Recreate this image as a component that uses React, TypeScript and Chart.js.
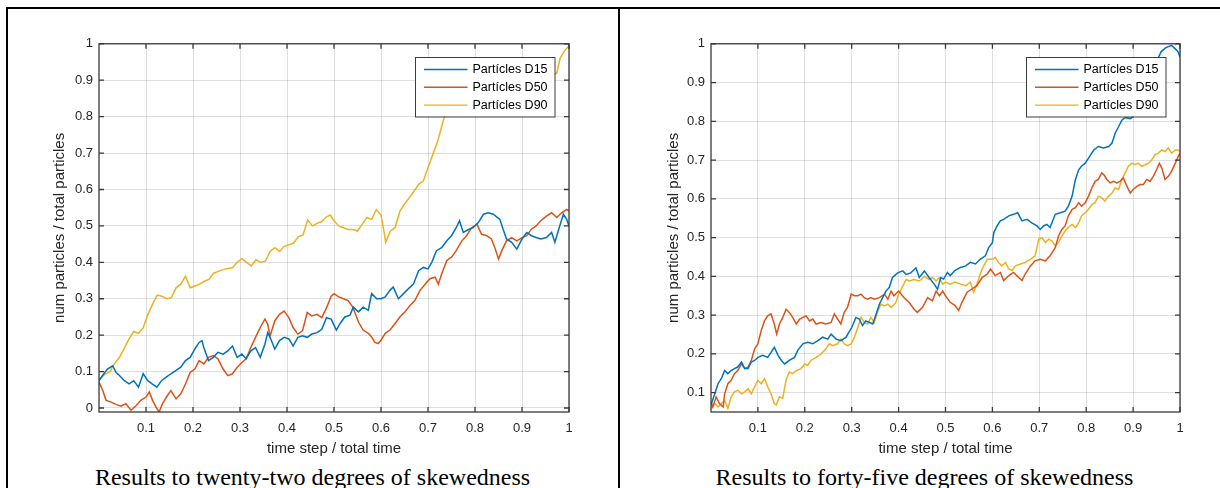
import React, { useEffect, useRef } from 'react';
import { Chart, registerables } from 'chart.js';

Chart.register(...registerables);

// ---------- data (time step / total time, num particles / total particles) ----------
const SERIES_LABELS = ['Partícles D15', 'Partícles D50', 'Partícles D90'];
const SERIES_COLORS = ['#0072BD', '#D95319', '#EDB120'];

const X_TICKS = [0.1, 0.2, 0.3, 0.4, 0.5, 0.6, 0.7, 0.8, 0.9, 1];
const Y_TICKS_LEFT = [0, 0.1, 0.2, 0.3, 0.4, 0.5, 0.6, 0.7, 0.8, 0.9, 1];
const Y_TICKS_RIGHT = [0.1, 0.2, 0.3, 0.4, 0.5, 0.6, 0.7, 0.8, 0.9, 1];

const CAPTION_LEFT = 'Results to twenty-two degrees of skewedness';
const CAPTION_RIGHT = 'Results to forty-five degrees of skewedness';
const X_TITLE = 'time step / total time';
const Y_TITLE = 'num particles / total particles';

// Left panel (22 degrees)
const L_D15: [number, number][] = [
  [0, 0.075], [0.008, 0.09], [0.018, 0.107], [0.029, 0.116], [0.036, 0.098], [0.043, 0.09], [0.054, 0.075],
  [0.064, 0.066], [0.074, 0.075], [0.084, 0.057], [0.094, 0.094], [0.104, 0.075], [0.113, 0.066], [0.123, 0.057],
  [0.133, 0.075], [0.143, 0.085], [0.153, 0.094], [0.164, 0.103], [0.174, 0.112], [0.184, 0.13], [0.194, 0.139],
  [0.204, 0.162], [0.213, 0.18], [0.219, 0.185], [0.223, 0.166], [0.233, 0.13], [0.243, 0.139], [0.253, 0.153],
  [0.264, 0.148], [0.274, 0.157], [0.284, 0.17], [0.294, 0.139], [0.304, 0.148], [0.313, 0.135], [0.323, 0.157],
  [0.333, 0.166], [0.343, 0.139], [0.353, 0.175], [0.359, 0.207], [0.364, 0.194], [0.374, 0.162], [0.384, 0.185],
  [0.394, 0.194], [0.404, 0.19], [0.413, 0.17], [0.423, 0.194], [0.433, 0.198], [0.443, 0.194], [0.453, 0.203],
  [0.464, 0.207], [0.474, 0.216], [0.484, 0.248], [0.494, 0.244], [0.505, 0.214], [0.513, 0.232], [0.523, 0.25],
  [0.534, 0.255], [0.541, 0.277], [0.552, 0.264], [0.562, 0.277], [0.573, 0.268], [0.58, 0.314], [0.591, 0.3],
  [0.6, 0.3], [0.609, 0.305], [0.619, 0.323], [0.626, 0.332], [0.637, 0.3], [0.648, 0.314], [0.658, 0.327],
  [0.669, 0.34], [0.68, 0.377], [0.69, 0.386], [0.7, 0.382], [0.708, 0.4], [0.718, 0.432], [0.729, 0.44],
  [0.74, 0.459], [0.75, 0.473], [0.76, 0.495], [0.767, 0.514], [0.775, 0.482], [0.786, 0.49], [0.796, 0.495],
  [0.807, 0.509], [0.818, 0.532], [0.828, 0.536], [0.839, 0.532], [0.853, 0.518], [0.86, 0.49], [0.867, 0.464],
  [0.878, 0.455], [0.889, 0.436], [0.9, 0.464], [0.91, 0.482], [0.92, 0.473], [0.93, 0.468], [0.94, 0.464],
  [0.952, 0.468], [0.963, 0.482], [0.97, 0.455], [0.977, 0.486], [0.988, 0.532], [0.995, 0.518], [1, 0.5],
];

const L_D50: [number, number][] = [
  [0, 0.071], [0.008, 0.048], [0.015, 0.021], [0.026, 0.016], [0.036, 0.01], [0.047, 0.005], [0.057, 0.012],
  [0.068, -0.006], [0.079, 0.007], [0.089, 0.021], [0.1, 0.03], [0.107, 0.044], [0.114, 0.021], [0.121, 0.003],
  [0.128, -0.011], [0.135, 0.012], [0.146, 0.035], [0.153, 0.048], [0.164, 0.025], [0.174, 0.039], [0.184, 0.066],
  [0.194, 0.098], [0.204, 0.107], [0.213, 0.13], [0.223, 0.121], [0.233, 0.139], [0.243, 0.144], [0.253, 0.135],
  [0.264, 0.107], [0.274, 0.089], [0.284, 0.094], [0.294, 0.112], [0.304, 0.125], [0.313, 0.135], [0.323, 0.166],
  [0.333, 0.194], [0.343, 0.221], [0.353, 0.244], [0.359, 0.23], [0.364, 0.198], [0.374, 0.239], [0.384, 0.257],
  [0.394, 0.266], [0.404, 0.248], [0.413, 0.221], [0.423, 0.203], [0.433, 0.212], [0.443, 0.262], [0.453, 0.253],
  [0.464, 0.257], [0.474, 0.248], [0.484, 0.275], [0.494, 0.307], [0.5, 0.314], [0.51, 0.305], [0.52, 0.3],
  [0.53, 0.295], [0.54, 0.277], [0.552, 0.236], [0.562, 0.214], [0.573, 0.205], [0.58, 0.195], [0.587, 0.18],
  [0.594, 0.177], [0.6, 0.186], [0.609, 0.205], [0.619, 0.214], [0.63, 0.232], [0.64, 0.25], [0.651, 0.264],
  [0.662, 0.282], [0.672, 0.295], [0.683, 0.323], [0.694, 0.34], [0.704, 0.355], [0.715, 0.359], [0.722, 0.34],
  [0.729, 0.368], [0.74, 0.405], [0.75, 0.414], [0.76, 0.432], [0.772, 0.459], [0.782, 0.473], [0.793, 0.495],
  [0.804, 0.505], [0.814, 0.477], [0.825, 0.473], [0.835, 0.464], [0.842, 0.441], [0.85, 0.409], [0.857, 0.432],
  [0.867, 0.459], [0.878, 0.468], [0.889, 0.459], [0.9, 0.468], [0.91, 0.473], [0.92, 0.491], [0.93, 0.5],
  [0.94, 0.514], [0.952, 0.527], [0.963, 0.536], [0.974, 0.523], [0.984, 0.536], [0.995, 0.545], [1, 0.541],
];

const L_D90: [number, number][] = [
  [0, 0.078], [0.014, 0.094], [0.024, 0.1], [0.029, 0.115], [0.044, 0.14], [0.064, 0.19], [0.074, 0.21],
  [0.084, 0.205], [0.094, 0.22], [0.104, 0.257], [0.114, 0.285], [0.124, 0.31], [0.134, 0.307], [0.144, 0.3],
  [0.154, 0.303], [0.164, 0.33], [0.174, 0.34], [0.184, 0.362], [0.194, 0.33], [0.204, 0.335], [0.214, 0.34],
  [0.224, 0.348], [0.234, 0.353], [0.244, 0.37], [0.254, 0.375], [0.264, 0.38], [0.274, 0.383], [0.284, 0.385],
  [0.294, 0.4], [0.304, 0.41], [0.314, 0.4], [0.324, 0.39], [0.334, 0.407], [0.344, 0.4], [0.354, 0.403],
  [0.364, 0.43], [0.374, 0.44], [0.384, 0.43], [0.394, 0.444], [0.404, 0.448], [0.414, 0.453], [0.424, 0.47],
  [0.434, 0.475], [0.444, 0.516], [0.454, 0.5], [0.464, 0.507], [0.474, 0.512], [0.484, 0.525], [0.492, 0.53],
  [0.5, 0.514], [0.51, 0.5], [0.52, 0.495], [0.53, 0.49], [0.54, 0.49], [0.55, 0.486], [0.56, 0.505],
  [0.57, 0.523], [0.58, 0.518], [0.59, 0.545], [0.6, 0.53], [0.605, 0.495], [0.61, 0.455], [0.62, 0.486],
  [0.63, 0.495], [0.64, 0.54], [0.65, 0.56], [0.66, 0.577], [0.67, 0.595], [0.68, 0.614], [0.69, 0.623],
  [0.7, 0.66], [0.71, 0.695], [0.72, 0.73], [0.73, 0.777], [0.735, 0.8], [0.76, 0.82], [0.8, 0.85],
  [0.85, 0.87], [0.9, 0.89], [0.94, 0.9], [0.96, 0.91], [0.974, 0.92], [0.981, 0.96], [0.99, 0.98], [1, 0.995],
];

// Right panel (45 degrees)
const R_D15: [number, number][] = [
  [0, 0.068], [0.008, 0.097], [0.015, 0.123], [0.022, 0.136], [0.029, 0.157], [0.036, 0.149], [0.043, 0.157],
  [0.05, 0.162], [0.057, 0.166], [0.065, 0.179], [0.072, 0.162], [0.079, 0.162], [0.086, 0.179], [0.093, 0.183],
  [0.1, 0.191], [0.11, 0.196], [0.121, 0.191], [0.128, 0.204], [0.135, 0.217], [0.143, 0.196], [0.15, 0.183],
  [0.157, 0.174], [0.167, 0.183], [0.178, 0.191], [0.185, 0.209], [0.196, 0.226], [0.206, 0.23], [0.217, 0.226],
  [0.228, 0.234], [0.238, 0.243], [0.249, 0.238], [0.256, 0.251], [0.267, 0.238], [0.277, 0.234], [0.288, 0.243],
  [0.3, 0.268], [0.309, 0.294], [0.316, 0.29], [0.323, 0.273], [0.33, 0.285], [0.338, 0.281], [0.345, 0.277],
  [0.352, 0.302], [0.359, 0.328], [0.366, 0.345], [0.373, 0.362], [0.38, 0.371], [0.387, 0.397], [0.398, 0.409],
  [0.409, 0.414], [0.416, 0.405], [0.426, 0.409], [0.437, 0.422], [0.444, 0.397], [0.455, 0.414], [0.465, 0.397],
  [0.476, 0.38], [0.483, 0.367], [0.49, 0.397], [0.496, 0.393], [0.504, 0.41], [0.51, 0.402], [0.52, 0.415],
  [0.532, 0.423], [0.543, 0.427], [0.553, 0.436], [0.564, 0.432], [0.574, 0.444], [0.585, 0.453], [0.592, 0.474],
  [0.6, 0.487], [0.603, 0.513], [0.61, 0.53], [0.617, 0.543], [0.624, 0.547], [0.635, 0.556], [0.645, 0.56],
  [0.654, 0.564], [0.663, 0.543], [0.674, 0.547], [0.684, 0.538], [0.695, 0.53], [0.702, 0.521], [0.709, 0.53],
  [0.716, 0.534], [0.723, 0.526], [0.734, 0.56], [0.745, 0.564], [0.755, 0.568], [0.762, 0.581], [0.77, 0.607],
  [0.777, 0.65], [0.784, 0.675], [0.79, 0.684], [0.798, 0.692], [0.805, 0.705], [0.816, 0.726], [0.826, 0.735],
  [0.837, 0.731], [0.848, 0.735], [0.855, 0.744], [0.862, 0.77], [0.869, 0.786], [0.876, 0.803], [0.883, 0.81],
  [0.894, 0.807], [0.9, 0.812], [0.91, 0.84], [0.92, 0.87], [0.93, 0.9], [0.94, 0.93], [0.95, 0.955],
  [0.96, 0.98], [0.97, 0.99], [0.982, 0.996], [0.99, 0.987], [0.996, 0.979], [1, 0.966],
];

const R_D50: [number, number][] = [
  [0, 0.076], [0.004, 0.063], [0.011, 0.089], [0.018, 0.072], [0.026, 0.063], [0.029, 0.097], [0.036, 0.123],
  [0.043, 0.132], [0.05, 0.149], [0.057, 0.157], [0.065, 0.174], [0.072, 0.162], [0.079, 0.166], [0.086, 0.183],
  [0.093, 0.213], [0.1, 0.226], [0.107, 0.26], [0.114, 0.285], [0.121, 0.298], [0.128, 0.303], [0.135, 0.277],
  [0.14, 0.251], [0.146, 0.277], [0.153, 0.294], [0.16, 0.315], [0.167, 0.307], [0.174, 0.294], [0.182, 0.277],
  [0.189, 0.29], [0.196, 0.294], [0.203, 0.298], [0.21, 0.285], [0.217, 0.29], [0.224, 0.277], [0.235, 0.281],
  [0.245, 0.277], [0.256, 0.281], [0.263, 0.303], [0.27, 0.29], [0.277, 0.277], [0.284, 0.307], [0.291, 0.32],
  [0.299, 0.354], [0.306, 0.35], [0.313, 0.35], [0.32, 0.354], [0.327, 0.345], [0.334, 0.341], [0.341, 0.345],
  [0.348, 0.341], [0.359, 0.345], [0.37, 0.354], [0.377, 0.341], [0.384, 0.362], [0.39, 0.35], [0.4, 0.362],
  [0.412, 0.345], [0.423, 0.332], [0.433, 0.315], [0.44, 0.307], [0.451, 0.32], [0.462, 0.345], [0.472, 0.337],
  [0.48, 0.362], [0.487, 0.35], [0.494, 0.362], [0.5, 0.35], [0.51, 0.333], [0.52, 0.325], [0.528, 0.312],
  [0.535, 0.333], [0.546, 0.359], [0.557, 0.368], [0.567, 0.376], [0.578, 0.397], [0.589, 0.406], [0.596, 0.419],
  [0.606, 0.402], [0.617, 0.41], [0.624, 0.389], [0.635, 0.402], [0.645, 0.41], [0.656, 0.397], [0.663, 0.389],
  [0.67, 0.406], [0.681, 0.427], [0.691, 0.44], [0.702, 0.444], [0.713, 0.44], [0.723, 0.453], [0.734, 0.474],
  [0.741, 0.504], [0.748, 0.521], [0.755, 0.53], [0.762, 0.556], [0.77, 0.573], [0.777, 0.577], [0.784, 0.59],
  [0.79, 0.581], [0.798, 0.59], [0.805, 0.607], [0.812, 0.628], [0.819, 0.645], [0.826, 0.65], [0.833, 0.667],
  [0.838, 0.662], [0.844, 0.65], [0.851, 0.641], [0.858, 0.645], [0.865, 0.641], [0.872, 0.645], [0.879, 0.654],
  [0.887, 0.632], [0.894, 0.615], [0.9, 0.624], [0.908, 0.632], [0.915, 0.637], [0.922, 0.637], [0.929, 0.65],
  [0.936, 0.645], [0.943, 0.658], [0.95, 0.675], [0.956, 0.692], [0.961, 0.68], [0.968, 0.65], [0.975, 0.658],
  [0.982, 0.671], [0.99, 0.692], [0.996, 0.709], [1, 0.718],
];

const R_D90: [number, number][] = [
  [0, 0.059], [0.008, 0.072], [0.015, 0.063], [0.022, 0.072], [0.029, 0.08], [0.036, 0.059], [0.043, 0.089],
  [0.05, 0.102], [0.057, 0.106], [0.065, 0.097], [0.072, 0.102], [0.079, 0.11], [0.086, 0.097], [0.093, 0.115],
  [0.1, 0.132], [0.107, 0.123], [0.114, 0.136], [0.121, 0.115], [0.128, 0.097], [0.135, 0.072], [0.139, 0.068],
  [0.146, 0.089], [0.153, 0.085], [0.16, 0.132], [0.167, 0.153], [0.174, 0.149], [0.182, 0.157], [0.192, 0.162],
  [0.2, 0.174], [0.206, 0.17], [0.213, 0.183], [0.224, 0.191], [0.235, 0.2], [0.245, 0.213], [0.252, 0.226],
  [0.26, 0.221], [0.27, 0.226], [0.277, 0.238], [0.284, 0.226], [0.291, 0.221], [0.299, 0.226], [0.306, 0.243],
  [0.313, 0.268], [0.32, 0.294], [0.327, 0.281], [0.334, 0.277], [0.341, 0.294], [0.348, 0.281], [0.355, 0.307],
  [0.362, 0.328], [0.37, 0.324], [0.377, 0.328], [0.384, 0.32], [0.394, 0.332], [0.4, 0.354], [0.409, 0.375],
  [0.416, 0.392], [0.423, 0.388], [0.433, 0.392], [0.444, 0.388], [0.455, 0.4], [0.465, 0.392], [0.472, 0.397],
  [0.48, 0.388], [0.487, 0.397], [0.494, 0.38], [0.5, 0.385], [0.51, 0.38], [0.52, 0.385], [0.532, 0.38],
  [0.543, 0.376], [0.553, 0.385], [0.56, 0.359], [0.567, 0.38], [0.578, 0.419], [0.589, 0.444], [0.6, 0.444],
  [0.606, 0.449], [0.613, 0.436], [0.62, 0.427], [0.628, 0.436], [0.635, 0.419], [0.642, 0.415], [0.649, 0.427],
  [0.66, 0.432], [0.67, 0.436], [0.681, 0.444], [0.691, 0.453], [0.699, 0.496], [0.706, 0.5], [0.713, 0.487],
  [0.72, 0.496], [0.727, 0.491], [0.734, 0.479], [0.741, 0.487], [0.748, 0.504], [0.755, 0.517], [0.762, 0.526],
  [0.77, 0.534], [0.777, 0.526], [0.784, 0.538], [0.79, 0.556], [0.798, 0.564], [0.805, 0.573], [0.812, 0.585],
  [0.819, 0.59], [0.826, 0.607], [0.833, 0.603], [0.84, 0.594], [0.848, 0.607], [0.855, 0.615], [0.862, 0.628],
  [0.869, 0.624], [0.876, 0.65], [0.883, 0.667], [0.89, 0.684], [0.897, 0.692], [0.904, 0.688], [0.911, 0.692],
  [0.918, 0.684], [0.926, 0.688], [0.933, 0.692], [0.94, 0.701], [0.947, 0.714], [0.954, 0.718], [0.961, 0.726],
  [0.968, 0.722], [0.975, 0.731], [0.982, 0.718], [0.99, 0.726], [0.996, 0.726], [1, 0.722],
];

// ---------- styling ----------
const SANS = "'Liberation Sans', Arial, Helvetica, sans-serif";
const SERIF = "'Liberation Serif', 'Times New Roman', Times, serif";
const AXIS_COLOR = '#3a3a3a';
const TEXT_COLOR = '#262626';
const GRID_COLOR = 'rgba(38,38,38,0.15)';
const CANVAS_W = 570;
const CANVAS_H = 430;

const matlabPlugin = {
  id: 'matlabAxes',
  afterDatasetsDraw(chart: any) {
    const { ctx, chartArea: a, scales } = chart;
    ctx.save();
    // legend box inside axes
    const legW = 139.5;
    const legH = 59.5;
    const bx = Math.round(a.right - 14.5 - legW);
    const by = Math.round(a.top + 13.5);
    ctx.fillStyle = '#ffffff';
    ctx.fillRect(bx, by, legW, legH);
    ctx.strokeStyle = '#3c3c3c';
    ctx.lineWidth = 1;
    ctx.strokeRect(bx + 0.5, by + 0.5, legW, legH);
    ctx.font = `12.5px ${SANS}`;
    ctx.textBaseline = 'middle';
    ctx.textAlign = 'left';
    chart.data.datasets.forEach((ds: any, i: number) => {
      const y = by + 12.5 + i * 17.8;
      ctx.strokeStyle = ds.borderColor;
      ctx.lineWidth = 1.4;
      ctx.beginPath();
      ctx.moveTo(bx + 9, y);
      ctx.lineTo(bx + 52.5, y);
      ctx.stroke();
      ctx.fillStyle = '#000000';
      ctx.fillText(ds.label, bx + 57.5, y + 0.5);
    });

    // box + inward ticks
    ctx.strokeStyle = AXIS_COLOR;
    ctx.lineWidth = 1.3;
    const TL = 5;
    ctx.beginPath();
    scales.x.ticks.forEach((t: any) => {
      const px = scales.x.getPixelForValue(t.value);
      ctx.moveTo(px, a.bottom);
      ctx.lineTo(px, a.bottom - TL);
      ctx.moveTo(px, a.top);
      ctx.lineTo(px, a.top + TL);
    });
    scales.y.ticks.forEach((t: any) => {
      const py = scales.y.getPixelForValue(t.value);
      ctx.moveTo(a.left, py);
      ctx.lineTo(a.left + TL, py);
      ctx.moveTo(a.right, py);
      ctx.lineTo(a.right - TL, py);
    });
    ctx.stroke();
    ctx.strokeRect(a.left, a.top, a.right - a.left, a.bottom - a.top);
    ctx.restore();
  },
};

type PanelProps = {
  left: number;
  series: [number, number][][];
  yMin: number;
  yTicks: number[];
  rightPad: number;
  yTitlePad: number;
};

function Panel({ left, series, yMin, yTicks, rightPad, yTitlePad }: PanelProps) {
  const ref = useRef<HTMLCanvasElement>(null);
  useEffect(() => {
    const chart = new Chart(ref.current as HTMLCanvasElement, {
      type: 'line',
      data: {
        datasets: series.map((s, i) => ({
          label: SERIES_LABELS[i],
          data: s.map(([x, y]) => ({ x, y })),
          borderColor: SERIES_COLORS[i],
          backgroundColor: SERIES_COLORS[i],
          borderWidth: 1.5,
          pointRadius: 0,
          tension: 0,
          fill: false,
        })),
      },
      options: {
        animation: false,
        responsive: false,
        maintainAspectRatio: false,
        devicePixelRatio: 1,
        layout: { padding: { top: 12, right: rightPad, bottom: 0, left: 0 } },
        plugins: { legend: { display: false }, tooltip: { enabled: false }, title: { display: false } },
        events: [],
        scales: {
          x: {
            type: 'linear',
            min: 0,
            max: 1,
            afterBuildTicks: (scale: any) => {
              scale.ticks = X_TICKS.map((value) => ({ value }));
            },
            afterFit: (scale: any) => {
              scale.height = 48;
            },
            ticks: {
              autoSkip: false,
              maxRotation: 0,
              padding: 9,
              color: TEXT_COLOR,
              font: { family: SANS, size: 13 },
              callback: (v: any) => `${+Number(v).toFixed(2)}`,
            },
            grid: { color: GRID_COLOR, lineWidth: 1, drawTicks: false },
            border: { display: false },
            title: {
              display: true,
              text: X_TITLE,
              color: TEXT_COLOR,
              font: { family: SANS, size: 15 },
              padding: { top: 0, bottom: 2 },
            },
          },
          y: {
            type: 'linear',
            min: yMin,
            max: 1,
            afterBuildTicks: (scale: any) => {
              scale.ticks = yTicks.map((value) => ({ value }));
            },
            afterFit: (scale: any) => {
              scale.width = 79;
            },
            ticks: {
              autoSkip: false,
              padding: 6,
              color: TEXT_COLOR,
              font: { family: SANS, size: 13 },
              callback: (v: any) => `${+Number(v).toFixed(2)}`,
            },
            grid: { color: GRID_COLOR, lineWidth: 1, drawTicks: false },
            border: { display: false },
            title: {
              display: true,
              text: Y_TITLE,
              color: TEXT_COLOR,
              font: { family: SANS, size: 15 },
              padding: { top: yTitlePad, bottom: 0 },
            },
          },
        },
      } as any,
      plugins: [matlabPlugin],
    });
    return () => chart.destroy();
  }, []);
  return (
    <canvas
      ref={ref}
      width={CANVAS_W}
      height={CANVAS_H}
      style={{ position: 'absolute', left, top: 30, width: CANVAS_W, height: CANVAS_H }}
    />
  );
}

const line = (style: React.CSSProperties) => (
  <div style={{ position: 'absolute', background: '#000', ...style }} />
);

const captionStyle: React.CSSProperties = {
  position: 'absolute',
  top: 465,
  fontFamily: SERIF,
  fontSize: 24,
  lineHeight: '24px',
  color: '#000',
  textAlign: 'center',
  whiteSpace: 'nowrap',
};

export default function App() {
  return (
    <div
      style={{
        position: 'absolute',
        left: 0,
        top: 0,
        width: 1220,
        height: 488,
        overflow: 'hidden',
        background: '#fff',
      }}
    >
      {line({ left: 6, top: 7, width: 1214, height: 2 })}
      {line({ left: 6, top: 7, width: 2, height: 481 })}
      {line({ left: 618, top: 7, width: 2, height: 481 })}
      <Panel left={20} series={[L_D15, L_D50, L_D90]} yMin={-0.011} yTicks={Y_TICKS_LEFT} rightPad={21} yTitlePad={31} />
      <Panel left={632} series={[R_D15, R_D50, R_D90]} yMin={0.05} yTicks={Y_TICKS_RIGHT} rightPad={22} yTitlePad={33} />
      <div style={{ ...captionStyle, left: 0, width: 625 }}>{CAPTION_LEFT}</div>
      <div style={{ ...captionStyle, left: 620, width: 609 }}>{CAPTION_RIGHT}</div>
    </div>
  );
}
